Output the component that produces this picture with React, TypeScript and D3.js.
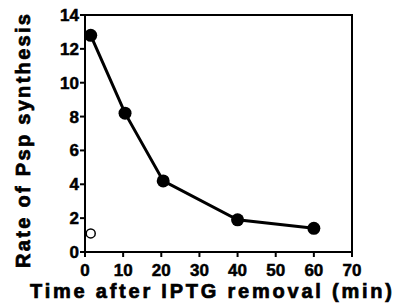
import React, { FC } from "react"
import { scaleLinear, line } from "d3"

// data
const times = [1.5, 10.5, 20.5, 40, 60]
const rates = [12.8, 8.2, 4.2, 1.9, 1.4]
const openTimes = [1.5]
const openRates = [1.1]
const xTicks = [0, 10, 20, 30, 40, 50, 60, 70]
const yTicks = [0, 2, 4, 6, 8, 10, 12, 14]

const width = 394
const height = 303
const margins = { top: 15, right: 42, bottom: 51, left: 85 }
const font = "Liberation Sans, Arial, sans-serif"

const App: FC = () => {
  const x = scaleLinear().domain([0, 70]).range([margins.left, width - margins.right])
  const y = scaleLinear().domain([0, 14]).range([height - margins.bottom, margins.top])

  const pts: [number, number][] = times.map((t, i) => [t, rates[i]])
  const path = line<[number, number]>()
    .x((d) => x(d[0]))
    .y((d) => y(d[1]))(pts) ?? ""

  const x0 = x(0)
  const x1 = x(70)
  const y0 = y(0)
  const y1 = y(14)

  const tickStyle = {
    fontFamily: font,
    fontWeight: "bold" as const,
    fontSize: 17,
    stroke: "#000",
    strokeWidth: 0.5,
  }
  const titleStyle = {
    fontFamily: font,
    fontWeight: "bold" as const,
    fontSize: 20,
    stroke: "#000",
    strokeWidth: 0.7,
  }

  return (
    <svg
      width={width}
      height={height}
      style={{ position: "absolute", left: 0, top: 0, background: "#fff" }}
    >
      {/* frame */}
      <rect x={x0} y={y1} width={x1 - x0} height={y0 - y1} fill="none" stroke="#000" strokeWidth={2} />

      {/* x ticks */}
      {xTicks.map((t) => (
        <g key={"x" + t}>
          <line x1={x(t)} x2={x(t)} y1={y0} y2={y0 + 5} stroke="#000" strokeWidth={2} />
          <text x={x(t)} y={y0 + 24} textAnchor="middle" style={tickStyle}>
            {t}
          </text>
        </g>
      ))}

      {/* y ticks */}
      {yTicks.map((t) => (
        <g key={"y" + t}>
          <line x1={x0 - 5} x2={x0} y1={y(t)} y2={y(t)} stroke="#000" strokeWidth={2} />
          <text x={x0 - 6} y={y(t) + 6} textAnchor="end" style={tickStyle}>
            {t}
          </text>
        </g>
      ))}

      {/* series */}
      <path d={path} fill="none" stroke="#000" strokeWidth={3} />
      {pts.map((d, i) => (
        <circle key={"p" + i} cx={x(d[0])} cy={y(d[1])} r={6.5} fill="#000" />
      ))}
      {openTimes.map((t, i) => (
        <circle key={"o" + i} cx={x(t)} cy={y(openRates[i])} r={4.5} fill="#fff" stroke="#000" strokeWidth={1.5} />
      ))}

      {/* axis titles */}
      <text x={30} y={298} textLength={362} lengthAdjust="spacing" style={titleStyle}>
        Time after IPTG removal (min)
      </text>
      <text
        transform="translate(30,141) rotate(-90)"
        textAnchor="middle"
        textLength={254}
        lengthAdjust="spacing"
        style={titleStyle}
      >
        Rate of Psp synthesis
      </text>
    </svg>
  )
}

export default App
